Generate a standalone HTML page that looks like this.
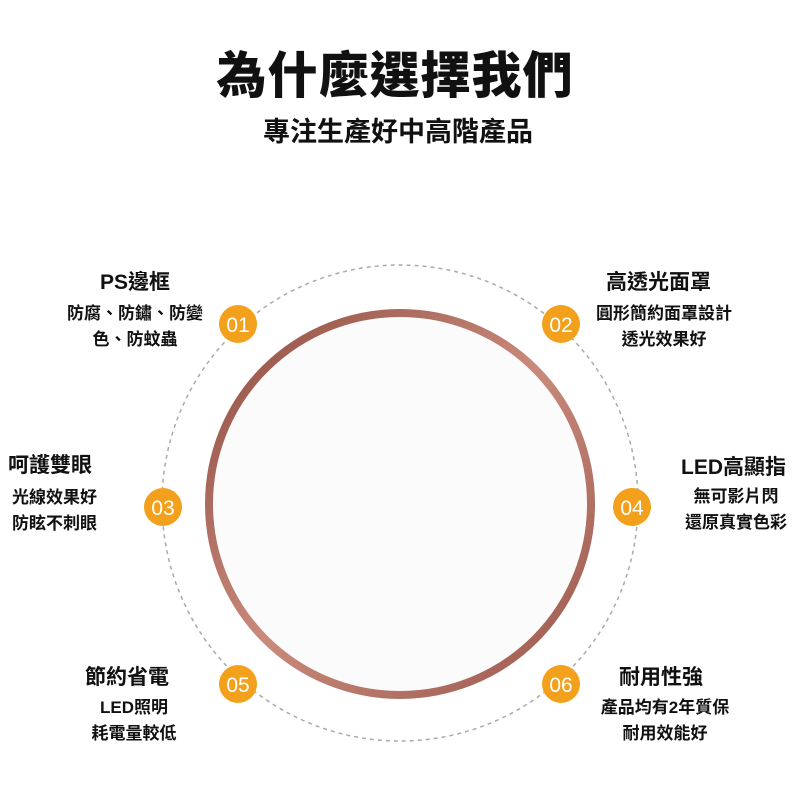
<!DOCTYPE html>
<html><head><meta charset="utf-8"><style>
html,body{margin:0;padding:0;background:#fff;}
body{width:800px;height:800px;position:relative;overflow:hidden;font-family:"Liberation Sans","Noto Sans CJK TC",sans-serif;color:#111;}
.t{position:absolute;font-weight:bold;white-space:nowrap;}
.h{font-size:21px;line-height:26px;}
.s{font-size:17px;line-height:26px;}
svg{position:absolute;left:0;top:0;}
</style></head><body>
<svg width="800" height="800">
<defs>
<linearGradient id="rg" x1="0" y1="0" x2="1" y2="1">
<stop offset="0" stop-color="#8e4c40"/><stop offset="0.5" stop-color="#c98a7c"/><stop offset="1" stop-color="#98564a"/>
</linearGradient>
</defs>
<circle cx="400" cy="503" r="238" fill="none" stroke="#aaa" stroke-width="1.5" stroke-dasharray="4,4"/>
<circle cx="400" cy="504" r="191" fill="#fcfbfb" stroke="url(#rg)" stroke-width="8"/>
<g fill="#f3a01c">
<circle cx="238" cy="324" r="19"/><circle cx="561" cy="324" r="19"/>
<circle cx="163" cy="507" r="19"/><circle cx="632" cy="507" r="19"/>
<circle cx="238" cy="684" r="19"/><circle cx="561" cy="684" r="19"/>
</g>
<g fill="#fff" font-family="Liberation Sans,sans-serif" font-size="21" text-anchor="middle">
<text x="238" y="332">01</text><text x="561" y="332">02</text>
<text x="163" y="515">03</text><text x="632" y="515">04</text>
<text x="238" y="692">05</text><text x="561" y="692">06</text>
</g>
</svg>
<div class="t" style="left:0;width:790px;text-align:center;top:36px;font-size:50px;font-weight:900;letter-spacing:1px;">為什麼選擇我們</div>
<div class="t" style="left:0;width:796px;text-align:center;top:110px;font-size:27px;">專注生產好中高階產品</div>

<div class="t h" style="left:100px;top:270px;">PS邊框</div>
<div class="t s" style="left:60px;top:301px;width:150px;text-align:center;">防腐、防鏽、防變<br>色、防蚊蟲</div>

<div class="t h" style="left:606px;top:270px;">高透光面罩</div>
<div class="t s" style="left:584px;top:301px;width:160px;text-align:center;">圓形簡約面罩設計<br>透光效果好</div>

<div class="t h" style="left:8px;top:453px;">呵護雙眼</div>
<div class="t s" style="left:12px;top:485px;">光線效果好<br>防眩不刺眼</div>

<div class="t h" style="left:600px;top:455px;width:186px;text-align:right;">LED高顯指</div>
<div class="t s" style="left:676px;top:484px;width:120px;text-align:center;">無可影片閃<br>還原真實色彩</div>

<div class="t h" style="left:85px;top:665px;">節約省電</div>
<div class="t s" style="left:84px;top:695px;width:100px;text-align:center;">LED照明<br>耗電量較低</div>

<div class="t h" style="left:619px;top:665px;">耐用性強</div>
<div class="t s" style="left:585px;top:695px;width:160px;text-align:center;">產品均有2年質保<br>耐用效能好</div>
</body></html>
